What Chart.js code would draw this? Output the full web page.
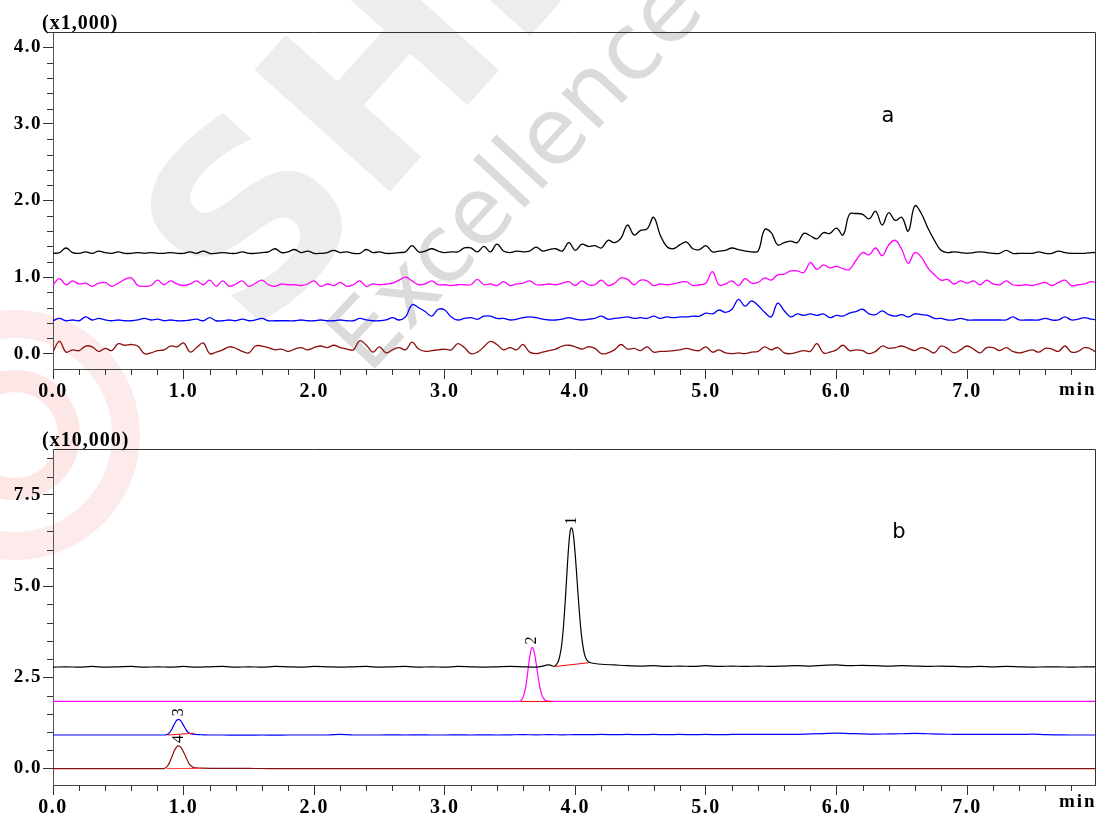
<!DOCTYPE html>
<html>
<head>
<meta charset="utf-8">
<script src="https://cdn.jsdelivr.net/npm/chart.js@4.4.1/dist/chart.umd.min.js"></script>
<style>
html,body{margin:0;padding:0;background:#fff;}
body{width:1102px;height:823px;overflow:hidden;position:relative;}
#wm{position:absolute;left:0;top:0;width:1102px;height:823px;overflow:hidden;pointer-events:none;}
.wt{position:absolute;white-space:nowrap;transform-origin:50% 50%;}
.ring{position:absolute;border-radius:50%;box-sizing:border-box;}
canvas{position:absolute;left:0;}
</style>
</head>
<body>
<div id="wm">
  <div class="ring" style="left:-110px;top:310px;width:250px;height:250px;border:28px solid rgba(235,60,60,0.10);"></div>
  <div class="ring" style="left:-50px;top:370px;width:130px;height:130px;border:22px solid rgba(235,60,60,0.13);"></div>
  <div class="wt" style="left:110px;top:-40px;font:bold 250px 'DejaVu Sans';color:rgba(0,0,0,0.07);transform:rotate(-48deg);">SHI</div>
  <div class="wt" style="left:266px;top:118px;font:93px 'DejaVu Sans';color:rgba(0,0,0,0.14);transform:rotate(-47deg);">Excellence</div>
</div>
<canvas id="ca" width="1102" height="412" style="top:0;"></canvas>
<canvas id="cb" width="1102" height="411" style="top:412px;"></canvas>
<script>
// ---------- panel a (x1,000) ----------
const topTimes = [0,0.05,0.1,0.15,0.2,0.25,0.3,0.35,0.4,0.45,0.5,0.55,0.6,0.65,0.7,0.75,0.8,0.85,0.9,0.95,1,1.05,1.1,1.15,1.2,1.25,1.3,1.35,1.4,1.45,1.5,1.55,1.6,1.65,1.7,1.75,1.8,1.85,1.9,1.95,2,2.05,2.1,2.15,2.2,2.25,2.3,2.35,2.4,2.45,2.5,2.55,2.6,2.65,2.7,2.75,2.8,2.85,2.9,2.95,3,3.05,3.1,3.15,3.2,3.25,3.3,3.35,3.4,3.45,3.5,3.55,3.6,3.65,3.7,3.75,3.8,3.85,3.9,3.95,4,4.05,4.1,4.15,4.2,4.25,4.3,4.35,4.4,4.45,4.5,4.55,4.6,4.65,4.7,4.75,4.8,4.85,4.9,4.95,5,5.05,5.1,5.15,5.2,5.25,5.3,5.35,5.4,5.45,5.5,5.55,5.6,5.65,5.7,5.75,5.8,5.85,5.9,5.95,6,6.05,6.1,6.15,6.2,6.25,6.3,6.35,6.4,6.45,6.5,6.55,6.6,6.65,6.7,6.75,6.8,6.85,6.9,6.95,7,7.05,7.1,7.15,7.2,7.25,7.3,7.35,7.4,7.45,7.5,7.55,7.6,7.65,7.7,7.75,7.8,7.85,7.9,7.95,8];

const aBlack = [1.31,1.32,1.38,1.32,1.31,1.33,1.31,1.34,1.32,1.31,
1.33,1.31,1.31,1.32,1.31,1.32,1.31,1.31,1.32,1.31,
1.31,1.33,1.31,1.34,1.31,1.31,1.32,1.31,1.31,1.33,
1.31,1.31,1.32,1.33,1.37,1.32,1.33,1.36,1.32,1.34,
1.31,1.31,1.32,1.35,1.32,1.33,1.31,1.31,1.36,1.32,
1.33,1.31,1.31,1.32,1.33,1.41,1.33,1.34,1.37,1.34,
1.32,1.33,1.33,1.38,1.38,1.33,1.40,1.33,1.43,1.34,
1.32,1.34,1.33,1.34,1.39,1.34,1.36,1.37,1.34,1.45,
1.35,1.43,1.40,1.41,1.38,1.48,1.45,1.51,1.68,1.55,
1.61,1.63,1.78,1.55,1.40,1.37,1.42,1.46,1.37,1.36,
1.41,1.33,1.34,1.35,1.38,1.36,1.34,1.33,1.34,1.62,
1.58,1.42,1.45,1.47,1.45,1.57,1.54,1.50,1.58,1.57,
1.64,1.55,1.82,1.83,1.82,1.76,1.86,1.68,1.84,1.74,
1.78,1.60,1.93,1.83,1.64,1.48,1.35,1.32,1.33,1.32,
1.31,1.32,1.33,1.32,1.31,1.31,1.35,1.31,1.31,1.31,
1.31,1.33,1.31,1.31,1.34,1.32,1.31,1.31,1.31,1.32,
1.32];

const aMagenta = [0.90,0.98,0.90,0.95,0.91,0.92,0.88,0.92,0.93,0.88,
0.92,0.97,0.99,0.89,0.88,0.89,0.96,0.90,0.95,0.91,
0.89,0.91,0.95,0.90,0.96,0.88,0.95,0.88,0.91,0.95,
0.88,0.92,0.96,0.90,0.88,0.91,0.90,0.90,0.89,0.91,
0.95,0.88,0.91,0.89,0.93,0.88,0.90,0.95,0.88,0.91,
0.90,0.91,0.92,0.96,1.00,0.95,0.90,0.91,0.95,0.90,
0.90,0.89,0.90,0.90,0.90,0.97,0.90,0.91,0.89,0.94,
0.89,0.91,0.92,0.95,0.90,0.90,0.91,0.90,0.92,0.94,
0.89,0.95,0.90,0.90,0.96,0.89,0.92,0.99,0.97,0.90,
0.96,0.95,0.89,0.91,0.90,0.91,0.93,0.94,0.89,0.90,
0.92,1.07,0.90,0.91,0.95,0.89,0.98,0.92,0.93,0.99,
0.96,1.03,1.04,1.08,1.08,1.06,1.19,1.10,1.16,1.12,
1.14,1.11,1.10,1.22,1.32,1.29,1.38,1.28,1.42,1.48,
1.36,1.18,1.32,1.26,1.12,1.03,0.96,0.97,0.91,0.95,
0.92,0.95,0.90,0.96,0.91,0.90,0.95,0.90,0.89,0.90,
0.89,0.91,0.93,0.89,0.93,0.96,0.89,0.90,0.91,0.94,
0.92];

const aBlue = [0.43,0.46,0.43,0.44,0.43,0.48,0.44,0.46,0.44,0.43,
0.44,0.43,0.43,0.44,0.46,0.44,0.45,0.43,0.44,0.43,
0.43,0.44,0.45,0.43,0.47,0.43,0.43,0.44,0.43,0.45,
0.43,0.44,0.46,0.43,0.43,0.43,0.43,0.43,0.44,0.43,
0.43,0.44,0.43,0.43,0.44,0.43,0.43,0.46,0.44,0.43,
0.43,0.44,0.47,0.44,0.48,0.64,0.60,0.55,0.49,0.58,
0.57,0.48,0.44,0.46,0.47,0.45,0.49,0.49,0.46,0.46,
0.44,0.45,0.47,0.48,0.47,0.45,0.44,0.44,0.45,0.47,
0.45,0.44,0.45,0.46,0.49,0.45,0.46,0.47,0.48,0.46,
0.47,0.46,0.49,0.46,0.48,0.47,0.48,0.48,0.49,0.49,
0.53,0.52,0.57,0.54,0.58,0.71,0.62,0.69,0.63,0.54,
0.48,0.66,0.56,0.48,0.52,0.50,0.52,0.50,0.52,0.47,
0.50,0.49,0.53,0.55,0.58,0.52,0.51,0.56,0.51,0.49,
0.51,0.48,0.52,0.51,0.50,0.46,0.46,0.44,0.44,0.46,
0.44,0.44,0.44,0.44,0.44,0.44,0.44,0.48,0.44,0.44,
0.44,0.44,0.46,0.44,0.44,0.48,0.44,0.45,0.47,0.45,
0.44];

const aDarkRed = [0.03,0.16,0.02,0.05,0.04,0.10,0.09,0.03,0.07,0.04,
0.13,0.11,0.12,0.10,0.00,0.01,0.04,0.05,0.10,0.09,
0.14,0.02,0.08,0.14,0.00,0.02,0.05,0.09,0.07,0.03,
0.01,0.10,0.10,0.08,0.05,0.06,0.03,0.06,0.08,0.05,
0.08,0.10,0.08,0.11,0.08,0.06,0.05,0.17,0.11,0.02,
0.09,0.01,0.05,0.08,0.05,0.15,0.06,0.03,0.04,0.05,
0.06,0.05,0.13,0.08,0.00,0.02,0.09,0.16,0.12,0.05,
0.08,0.05,0.12,0.02,0.00,0.02,0.04,0.06,0.10,0.11,
0.09,0.06,0.09,0.07,0.00,0.01,0.05,0.12,0.06,0.07,
0.04,0.09,0.02,0.03,0.03,0.04,0.05,0.07,0.05,0.04,
0.09,0.02,0.05,0.01,0.00,0.01,0.00,0.02,0.03,0.09,
0.05,0.08,0.01,0.00,0.02,0.04,0.03,0.13,0.01,0.02,
0.05,0.11,0.04,0.05,0.04,0.00,0.03,0.10,0.07,0.08,
0.10,0.07,0.04,0.08,0.05,0.01,0.10,0.07,0.01,0.05,
0.10,0.06,0.01,0.08,0.08,0.04,0.08,0.03,0.01,0.03,
0.05,0.02,0.07,0.06,0.03,0.10,0.02,0.03,0.08,0.06,
0.00];

// ---------- panel b (x10,000) ----------
const bBlackTimes = [0,0.1,0.2,0.3,0.4,0.5,0.6,0.7,0.8,0.9,1,1.1,1.2,1.3,1.4,1.5,1.6,1.7,1.8,1.9,2,2.1,2.2,2.3,2.4,2.5,2.6,2.7,2.8,2.9,3,3.1,3.2,3.3,3.4,3.5,3.6,3.7,3.8,
3.84,3.85,3.86,3.87,3.88,3.89,3.9,3.91,3.92,3.93,3.94,3.95,3.96,3.97,3.98,3.99,4,4.01,4.02,4.03,4.04,4.05,4.06,4.07,4.08,4.09,4.1,4.11,4.12,
4.15,4.2,4.3,4.4,4.5,4.6,4.7,4.8,4.9,5,5.1,5.2,5.3,5.4,5.5,5.6,5.7,5.8,5.9,6,6.1,6.2,6.3,6.4,6.5,6.6,6.7,6.8,6.9,7,7.1,7.2,7.3,7.4,7.5,7.6,7.7,7.8,7.9,8];
const bBlack = [2.78,2.79,2.78,2.80,2.78,2.79,2.80,2.78,2.79,2.78,2.80,2.78,2.79,2.80,2.78,2.79,2.78,2.80,2.79,2.78,2.80,2.79,2.78,2.79,2.80,2.78,2.79,2.80,2.78,2.79,2.78,2.80,2.79,2.78,2.79,2.80,2.79,2.78,2.84,
2.80,2.83,2.88,2.94,3.07,3.25,3.53,3.92,4.43,5.01,5.61,6.13,6.49,6.60,6.52,6.25,5.84,5.35,4.82,4.34,3.91,3.57,3.32,3.14,3.03,2.97,2.93,2.91,2.90,
2.88,2.86,2.84,2.82,2.81,2.82,2.80,2.81,2.80,2.82,2.80,2.81,2.80,2.81,2.80,2.81,2.82,2.81,2.83,2.84,2.82,2.83,2.82,2.81,2.82,2.81,2.80,2.81,2.80,2.79,2.80,2.79,2.80,2.79,2.78,2.79,2.79,2.78,2.79,2.79];

const bMagentaTimes = [0,0.1,0.2,0.3,0.4,0.5,0.6,0.7,0.8,0.9,1,1.1,1.2,1.3,1.4,1.5,1.6,1.7,1.8,1.9,2,2.1,2.2,2.3,2.4,2.5,2.6,2.7,2.8,2.9,3,3.1,3.2,3.3,3.4,3.5,
3.55,3.56,3.57,3.58,3.59,3.6,3.61,3.62,3.63,3.64,3.65,3.66,3.67,3.68,3.69,3.7,3.71,3.72,3.73,3.74,3.75,3.76,3.77,3.78,3.79,3.8,3.81,3.82,3.83,3.84,3.85,
3.9,4,4.1,4.2,4.3,4.4,4.5,4.6,4.7,4.8,4.9,5,5.1,5.2,5.3,5.4,5.5,5.6,5.7,5.8,5.9,6,6.1,6.2,6.3,6.4,6.5,6.6,6.7,6.8,6.9,7,7.1,7.2,7.3,7.4,7.5,7.6,7.7,7.8,7.9,8];
const bMagenta = [1.84,1.84,1.84,1.84,1.84,1.84,1.84,1.84,1.84,1.84,1.84,1.84,1.84,1.84,1.84,1.84,1.84,1.84,1.84,1.84,1.84,1.84,1.84,1.84,1.84,1.84,1.84,1.84,1.84,1.84,1.84,1.84,1.84,1.84,1.84,1.84,
1.84,1.84,1.85,1.86,1.89,1.96,2.07,2.24,2.48,2.77,3.04,3.24,3.32,3.26,3.11,2.89,2.64,2.40,2.21,2.06,1.97,1.91,1.87,1.86,1.85,1.85,1.84,1.84,1.84,1.84,1.84,
1.84,1.84,1.84,1.84,1.84,1.84,1.84,1.84,1.84,1.84,1.84,1.84,1.84,1.84,1.84,1.84,1.84,1.84,1.84,1.84,1.84,1.84,1.84,1.84,1.84,1.84,1.84,1.84,1.84,1.84,1.84,1.84,1.84,1.84,1.84,1.84,1.84,1.84,1.84,1.84,1.84,1.84];

const bLowTimes = [0,0.1,0.2,0.3,0.4,0.5,0.6,0.7,0.8,
0.84,0.85,0.86,0.87,0.88,0.89,0.9,0.91,0.92,0.93,0.94,0.95,0.96,0.97,0.98,0.99,1,1.01,1.02,1.03,1.04,1.05,1.06,1.07,1.08,1.09,1.1,1.11,1.12,
1.15,1.2,1.3,1.4,1.5,1.6,1.7,1.8,1.9,2,2.1,2.2,2.3,2.4,2.5,2.6,2.7,2.8,2.9,3,3.1,3.2,3.3,3.4,3.5,3.6,3.7,3.8,3.9,4,4.1,4.2,4.3,4.4,4.5,4.6,4.7,4.8,4.9,5,5.1,5.2,5.3,5.4,5.5,5.6,5.7,5.8,5.9,6,6.1,6.2,6.3,6.4,6.5,6.6,6.7,6.8,6.9,7,7.1,7.2,7.3,7.4,7.5,7.6,7.7,7.8,7.9,8];
const bBlue = [0.92,0.92,0.92,0.92,0.92,0.92,0.92,0.92,0.92,
0.92,0.92,0.92,0.93,0.95,0.98,1.02,1.08,1.15,1.22,1.29,1.33,1.35,1.34,1.30,1.245,1.18,1.12,1.06,1.01,0.98,0.96,0.95,0.945,0.94,0.94,0.935,0.93,0.93,
0.925,0.92,0.92,0.915,0.915,0.92,0.915,0.92,0.92,0.92,0.92,0.94,0.92,0.92,0.92,0.925,0.92,0.925,0.92,0.92,0.925,0.92,0.925,0.92,0.925,0.93,0.925,0.93,0.925,0.93,0.93,0.935,0.93,0.935,0.93,0.935,0.93,0.935,0.93,0.935,0.93,0.935,0.94,0.935,0.94,0.935,0.94,0.95,0.96,0.97,0.96,0.95,0.945,0.95,0.955,0.965,0.955,0.945,0.94,0.935,0.94,0.935,0.94,0.935,0.945,0.93,0.925,0.92,0.92,0.92];
const bDarkRed = [0,0,0,0,0,0,0,0,0,
0,0.005,0.015,0.04,0.09,0.15,0.23,0.32,0.41,0.50,0.56,0.605,0.62,0.61,0.575,0.52,0.45,0.38,0.30,0.22,0.15,0.10,0.065,0.04,0.03,0.022,0.018,0.015,0.012,
0.01,0.008,0.006,0.004,0.003,0.002,0,0,0,0,0,0,0,0,0,0,0,0,0,0,0,0,0,0,0,0,0,0,0,0,0,0,0,0,0,0,0,0,0,0,0,0,0,0,0,0,0,0,0,0,0,0,0,0,0,0,0,0,0,0,0,0,0,0,0,0,0,0,0,0,0,0];

// integration baselines (red)
const base1Times = [3.85, 4.10], base1Values = [2.80, 2.90];
const base2Times = [3.58, 3.82], base2Values = [1.84, 1.84];
const base3Times = [0.88, 1.08], base3Values = [0.92, 0.97];
const base4Times = [0.87, 1.13], base4Values = [0.0, 0.005];

const peakLabels  = ['1', '2', '3', '4'];
const peakTimes   = [3.97, 3.67, 0.96, 0.96];
const peakHeights = [6.60, 3.32, 1.35, 0.62];

// ticks
const xTickValues = [0, 1, 2, 3, 4, 5, 6, 7];
const xTickLabels = ['0.0', '1.0', '2.0', '3.0', '4.0', '5.0', '6.0', '7.0'];
const aYTickValues = [0, 1, 2, 3, 4];
const aYTickLabels = ['0.0', '1.0', '2.0', '3.0', '4.0'];
const bYTickValues = [0, 2.5, 5, 7.5];
const bYTickLabels = ['0.0', '2.5', '5.0', '7.5'];

// ---------- drawing ----------
const SERIF = '"Liberation Serif", "Times New Roman", serif';
function pts(xs, ys) { return xs.map((x, i) => ({ x: x, y: ys[i] })); }
function line(data, color, width, extra) {
  return Object.assign({ data: data, borderColor: color, borderWidth: width, pointRadius: 0, fill: false }, extra || {});
}

function xScaleCfg(h) {
  return {
    type: 'linear', min: 0, max: 7.98,
    afterBuildTicks: s => { s.ticks = xTickValues.map(v => ({ value: v })); },
    afterFit: s => { s.height = h; },
    ticks: { autoSkip: false, maxRotation: 0, padding: 1, color: '#000',
      font: { family: SERIF, size: 20, weight: 'bold' },
      callback: (v, i) => xTickLabels[i] },
    grid: { drawOnChartArea: false, drawTicks: true, tickLength: 10, color: '#333', lineWidth: 1 },
    border: { display: true, color: '#444', width: 1 }
  };
}
function yScaleCfg(min, max, vals, labels) {
  return {
    type: 'linear', min: min, max: max,
    afterBuildTicks: s => { s.ticks = vals.map(v => ({ value: v })); },
    afterFit: s => { s.width = 53; },
    ticks: { autoSkip: false, padding: 1, color: '#000',
      font: { family: SERIF, size: 19, weight: 'bold' },
      callback: (v, i) => labels[i] },
    grid: { drawOnChartArea: false, drawTicks: true, tickLength: 10, color: '#333', lineWidth: 1 },
    border: { display: true, color: '#555', width: 1 }
  };
}

const decor = {
  id: 'decor',
  beforeDraw(chart) { chart.ctx.letterSpacing = '1.5px'; },
  afterDraw(chart, args, o) {
    const ctx = chart.ctx, a = chart.chartArea, xs = chart.scales.x, ys = chart.scales.y;
    ctx.save();
    ctx.strokeStyle = '#333'; ctx.lineWidth = 1;
    ctx.beginPath();
    ctx.moveTo(a.left, a.top + 0.5); ctx.lineTo(Math.round(a.right) + 0.5, a.top + 0.5);
    ctx.lineTo(Math.round(a.right) + 0.5, a.bottom);
    ctx.stroke();
    // minor ticks
    ctx.beginPath();
    for (let i = 1; i * 0.2 <= xs.max + 1e-9; i++) {
      if (i % 5 === 0) continue;
      const px = Math.round(xs.getPixelForValue(i * 0.2)) + 0.5;
      ctx.moveTo(px, a.bottom); ctx.lineTo(px, a.bottom + 6);
    }
    for (let i = 1; i * o.yMinor <= ys.max + 1e-9; i++) {
      if (i % o.yMajorEvery === 0) continue;
      const py = Math.round(ys.getPixelForValue(i * o.yMinor)) + 0.5;
      ctx.moveTo(a.left - 6, py); ctx.lineTo(a.left, py);
    }
    ctx.stroke();
    // texts
    ctx.fillStyle = '#000';
    ctx.textAlign = 'left'; ctx.textBaseline = 'alphabetic';
    ctx.letterSpacing = '1px';
    ctx.font = 'bold 20px ' + SERIF;
    ctx.fillText(o.unit, 42, a.top - 3);
    if (o.showMin) {
      ctx.letterSpacing = '2px';
      ctx.font = 'bold 19px ' + SERIF;
      ctx.fillText('min', 1059, 395);
    }
    ctx.letterSpacing = '0px';
    ctx.font = '21px "DejaVu Sans", sans-serif';
    ctx.textAlign = 'center';
    ctx.fillText(o.tag, o.tagX, o.tagY);
    if (o.peaks) {
      ctx.font = '16px ' + SERIF;
      ctx.textAlign = 'left'; ctx.textBaseline = 'middle';
      for (let i = 0; i < peakLabels.length; i++) {
        const px = xs.getPixelForValue(peakTimes[i]);
        const py = ys.getPixelForValue(peakHeights[i]);
        ctx.save();
        ctx.translate(px, py - 3);
        ctx.rotate(-Math.PI / 2);
        ctx.fillText(peakLabels[i], 0, 0);
        ctx.restore();
      }
    }
    ctx.restore();
  }
};

const commonOpts = {
  responsive: false, animation: false, devicePixelRatio: 1,
  plugins: { legend: { display: false }, tooltip: { enabled: false } },
  events: []
};

new Chart(document.getElementById('ca'), {
  type: 'line',
  data: { datasets: [
    line(pts(topTimes, aBlack), '#000000', 1.3, { tension: 0.4 }),
    line(pts(topTimes, aMagenta), '#ff00ff', 1.3, { tension: 0.4 }),
    line(pts(topTimes, aBlue), '#0000ff', 1.3, { tension: 0.4 }),
    line(pts(topTimes, aDarkRed), '#8b1010', 1.3, { tension: 0.4 })
  ] },
  options: Object.assign({}, commonOpts, {
    layout: { padding: { top: 32, right: 7, left: 0, bottom: 0 } },
    scales: { x: xScaleCfg(43), y: yScaleCfg(-0.2, 4.2, aYTickValues, aYTickLabels) },
    plugins: Object.assign({}, commonOpts.plugins, {
      decor: { unit: '(x1,000)', showMin: true, yMinor: 0.2, yMajorEvery: 5, tag: 'a', tagX: 888, tagY: 122 }
    })
  }),
  plugins: [decor]
});

new Chart(document.getElementById('cb'), {
  type: 'line',
  data: { datasets: [
    line(pts(base1Times, base1Values), '#ff0000', 1, { order: -1 }),
    line(pts(base2Times, base2Values), '#ff0000', 1, { order: -1 }),
    line(pts(base3Times, base3Values), '#ff0000', 1, { order: -1 }),
    line(pts(base4Times, base4Values), '#ff4040', 1, { order: -1 }),
    line(pts(bBlackTimes, bBlack), '#000000', 1.2, { cubicInterpolationMode: 'monotone' }),
    line(pts(bMagentaTimes, bMagenta), '#ff00ff', 1.2, { cubicInterpolationMode: 'monotone' }),
    line(pts(bLowTimes, bBlue), '#0000ff', 1.2, { cubicInterpolationMode: 'monotone' }),
    line(pts(bLowTimes, bDarkRed), '#8b1010', 1.2, { cubicInterpolationMode: 'monotone' })
  ] },
  options: Object.assign({}, commonOpts, {
    layout: { padding: { top: 37, right: 7, left: 0, bottom: 0 } },
    scales: { x: xScaleCfg(38), y: yScaleCfg(-0.45, 8.76, bYTickValues, bYTickLabels) },
    plugins: Object.assign({}, commonOpts.plugins, {
      decor: { unit: '(x10,000)', showMin: true, yMinor: 0.5, yMajorEvery: 5, tag: 'b', tagX: 899, tagY: 126, peaks: true }
    })
  }),
  plugins: [decor]
});
</script>
</body>
</html>
